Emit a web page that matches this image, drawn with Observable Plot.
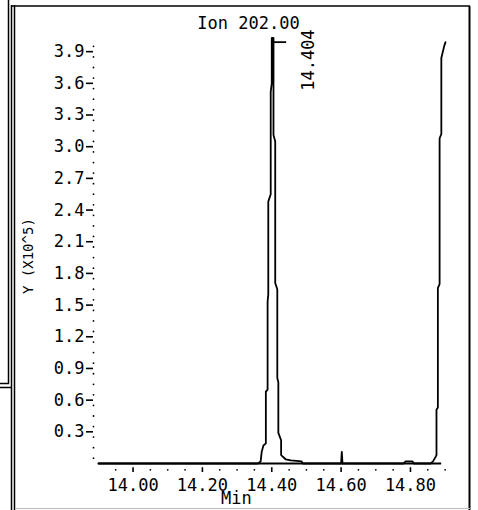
<!DOCTYPE html>
<html>
<head>
<meta charset="utf-8">
<script src="https://cdn.jsdelivr.net/npm/d3@7"></script>
<script src="https://cdn.jsdelivr.net/npm/@observablehq/plot@0.6"></script>
<style>
  html, body { margin: 0; padding: 0; background: #fff; }
  #chart { position: relative; width: 478px; height: 510px; }
  #chart svg { display: block; }
</style>
</head>
<body>
<div id="chart"></div>
<script>
// ---- data ----
const titleText = "Ion 202.00";
const xLabel = "Min";
const yLabel = "Y (X10^5)";
const peakLabel = 14.404;          // retention time annotation
const peakMarkValue = 3.99;        // height of the annotation mark (x10^5)
const peakMarkEnd = 14.443;        // end of the horizontal annotation mark

// chromatogram trace: time (min) and abundance (x10^5)
const traceTime = [
  13.900, 14.360, 14.368, 14.371, 14.376, 14.383, 14.383, 14.388, 14.388, 14.390,
  14.390, 14.397, 14.397, 14.400, 14.400, 14.405, 14.405, 14.410, 14.410, 14.416,
  14.416, 14.419, 14.419, 14.427, 14.427, 14.440, 14.455, 14.486, 14.490, 14.600,
  14.602, 14.604, 14.780, 14.786, 14.806, 14.810, 14.858, 14.865, 14.872, 14.875,
  14.875, 14.879, 14.879, 14.884, 14.884, 14.889, 14.889, 14.897, 14.901
];
const traceValue = [
  0.00, 0.00, 0.02, 0.11, 0.17, 0.19, 0.68, 0.70, 1.53, 1.60,
  2.48, 2.55, 3.52, 3.60, 4.03, 4.03, 3.11, 3.05, 1.71, 1.65,
  0.81, 0.77, 0.29, 0.22, 0.08, 0.04, 0.03, 0.02, 0.00, 0.00,
  0.11, 0.00, 0.00, 0.02, 0.02, 0.00, 0.00, 0.02, 0.06, 0.08,
  0.51, 0.53, 1.66, 1.70, 3.08, 3.12, 3.84, 3.95, 3.99
];

const xTicks = [14.00, 14.20, 14.40, 14.60, 14.80];
const xMinorTicks = [13.95, 14.05, 14.10, 14.15, 14.25, 14.30, 14.35, 14.45, 14.50, 14.55, 14.65, 14.70, 14.75, 14.85, 14.90];
const yTicks = [0.3, 0.6, 0.9, 1.2, 1.5, 1.8, 2.1, 2.4, 2.7, 3.0, 3.3, 3.6, 3.9];
const yMinorTicks = [0.05, 0.15, 0.25, 0.35, 0.45, 0.55, 0.65, 0.75, 0.85, 0.95, 1.05, 1.15, 1.25, 1.35, 1.45, 1.55, 1.65, 1.75, 1.85, 1.95, 2.05, 2.15, 2.25, 2.35, 2.45, 2.55, 2.65, 2.75, 2.85, 2.95, 3.05, 3.15, 3.25, 3.35, 3.45, 3.55, 3.65, 3.75, 3.85, 3.95];

const xDomain = [13.886, 14.901];
const yDomain = [0, 4.195];

const trace = traceTime.map((t, i) => ({t, v: traceValue[i]}));

const FONT = "'DejaVu Sans Mono', monospace";

const plot = Plot.plot({
  width: 478,
  height: 510,
  marginLeft: 93,
  marginRight: 33,
  marginTop: 20,
  marginBottom: 47,
  style: {fontFamily: FONT, fontSize: "17px", color: "#000", background: "#fff", overflow: "visible"},
  x: {domain: xDomain},
  y: {domain: yDomain},
  marks: [
    // y axis: dotted line + dash ticks + labels
    Plot.dot(yMinorTicks, {x: xDomain[0], y: d => d, r: 0.9, fill: "#000", stroke: null}),
    Plot.axisY(yTicks, {
      anchor: "left", tickSize: 7, tickPadding: 2, strokeWidth: 1.6,
      tickFormat: d3.format(".1f"), fontSize: 17, label: null
    }),
    // x axis: base line, dotted minor ticks, major ticks, labels
    Plot.ruleY([0], {x1: 13.901, x2: 14.89, stroke: "#000", strokeWidth: 2}),
    Plot.dot(xMinorTicks, {x: d => d, y: -0.06, r: 0.9, fill: "#000", stroke: null, clip: false}),
    Plot.ruleX(xTicks, {y1: -0.04, y2: -0.085, stroke: "#000", strokeWidth: 1.6}),
    Plot.axisX(xTicks, {
      anchor: "bottom", tickSize: 0, tickPadding: 15,
      tickFormat: d3.format(".2f"), fontSize: 17, label: null
    }),
    // chromatogram trace
    Plot.line(trace, {x: "t", y: "v", stroke: "#000", strokeWidth: 1.8, curve: "linear"}),
    // retention time annotation
    Plot.ruleY([peakMarkValue], {x1: peakLabel, x2: peakMarkEnd, stroke: "#000", strokeWidth: 1.8}),
    Plot.text([peakLabel], {
      x: d => d, y: 3.82, dx: 35, text: d => d3.format(".3f")(d),
      rotate: -90, textAnchor: "middle", lineAnchor: "middle", fontSize: 17
    }),
    // title
    Plot.text([titleText], {frameAnchor: "top", dx: -21, dy: -4, lineAnchor: "top", text: d => d, fontSize: 17}),
    // axis titles
    Plot.text([xLabel], {x: 14.298, y: -0.385, text: d => d, lineAnchor: "bottom", fontSize: 17}),
    Plot.text([yLabel], {x: xDomain[0], y: 1.964, dx: -65, text: d => d, rotate: -90,
      textAnchor: "middle", lineAnchor: "middle", fontSize: 14})
  ]
});

document.getElementById("chart").appendChild(plot);

// panel frame decoration (borders of the printed report)
const svg = d3.select(plot);
const frame = svg.append("g").attr("fill", "none").attr("stroke", "#000");
frame.append("line").attr("x1", 11.5).attr("x2", 11.5).attr("y1", 5).attr("y2", 510).attr("stroke-width", 1.5);
frame.append("line").attr("x1", 14.5).attr("x2", 14.5).attr("y1", 5).attr("y2", 510).attr("stroke-width", 1.5);
frame.append("line").attr("x1", 11).attr("x2", 470).attr("y1", 6).attr("y2", 6).attr("stroke-width", 1.5);
frame.append("line").attr("x1", 469.5).attr("x2", 469.5).attr("y1", 6).attr("y2", 510).attr("stroke-width", 2);
frame.append("line").attr("x1", 15).attr("x2", 470).attr("y1", 508.5).attr("y2", 508.5).attr("stroke", "#bbb").attr("stroke-width", 1);
frame.append("line").attr("x1", 8.5).attr("x2", 8.5).attr("y1", 0).attr("y2", 383.5).attr("stroke-width", 1.5);
frame.append("line").attr("x1", 0).attr("x2", 9).attr("y1", 383.5).attr("y2", 383.5).attr("stroke-width", 1.5);
frame.append("line").attr("x1", 0).attr("x2", 11).attr("y1", 387.5).attr("y2", 387.5).attr("stroke-width", 1.5);
</script>
</body>
</html>
